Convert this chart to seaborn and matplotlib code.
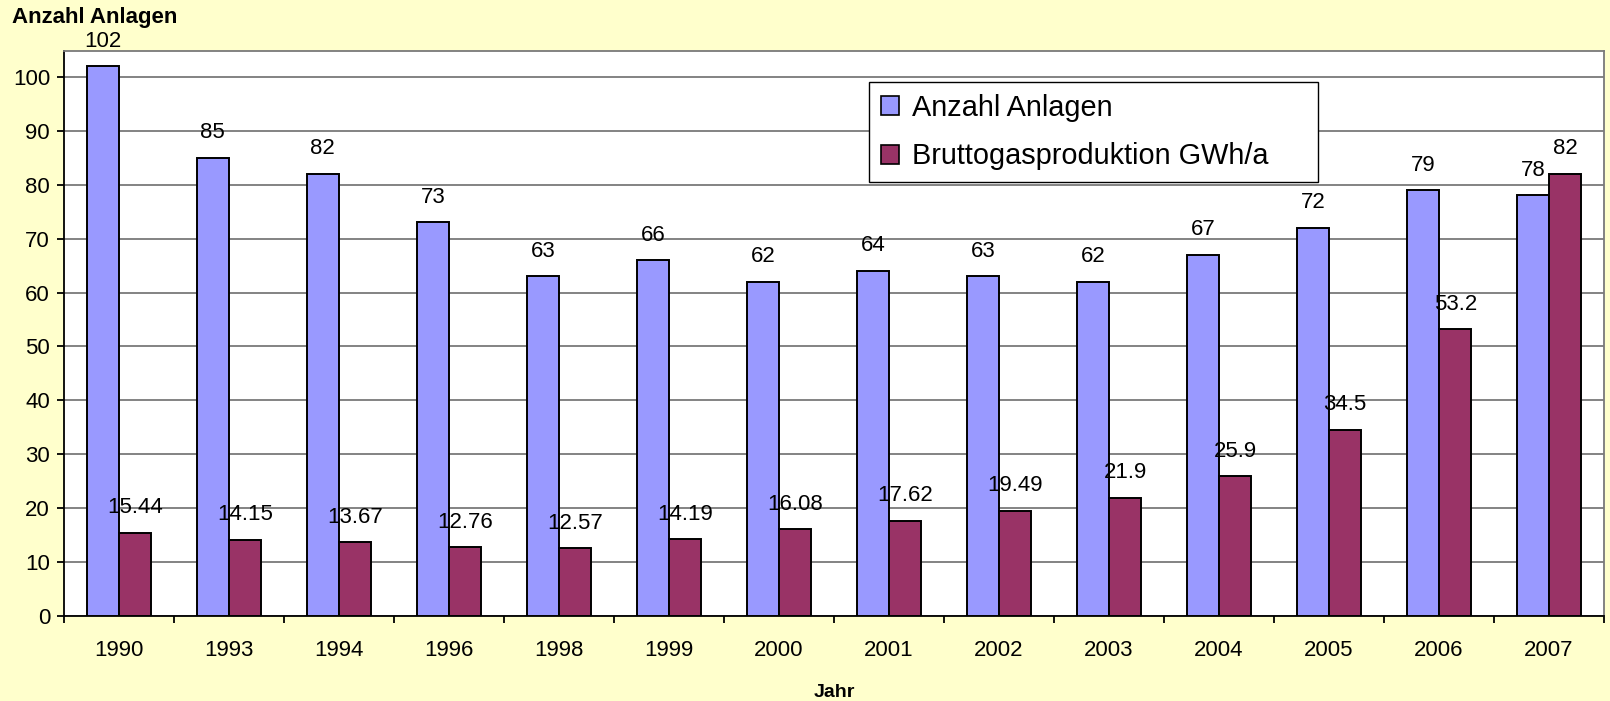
import matplotlib
matplotlib.use("Agg")
import matplotlib.pyplot as plt
import seaborn as sns
import pandas as pd
import numpy as np
from matplotlib.ticker import FixedLocator

years = ["1990", "1993", "1994", "1996", "1998", "1999", "2000", "2001",
         "2002", "2003", "2004", "2005", "2006", "2007"]
anlagen = [102, 85, 82, 73, 63, 66, 62, 64, 63, 62, 67, 72, 79, 78]
gas = [15.44, 14.15, 13.67, 12.76, 12.57, 14.19, 16.08, 17.62, 19.49, 21.9,
       25.9, 34.5, 53.2, 82]
series_names = ["Anzahl Anlagen", "Bruttogasproduktion GWh/a"]
colors = ["#9999FF", "#993366"]

df = pd.DataFrame({
    "Jahr": years * 2,
    "Wert": anlagen + gas,
    "Serie": [series_names[0]] * len(years) + [series_names[1]] * len(years),
})

sns.set_style("white")
plt.rcParams["font.family"] = ["Liberation Sans", "DejaVu Sans"]
plt.rcParams["text.color"] = "black"
plt.rcParams["axes.labelcolor"] = "black"
plt.rcParams["xtick.color"] = "black"
plt.rcParams["ytick.color"] = "black"

fig = plt.figure(figsize=(16.1, 7.01), dpi=100, facecolor="#FFFFCC")
ax = fig.add_axes([64 / 1610, 1 - 616 / 701, 1540 / 1610, 565 / 701])
ax.set_facecolor("white")

sns.barplot(data=df, x="Jahr", y="Wert", hue="Serie", hue_order=series_names,
            palette=colors, width=0.59, edgecolor="black", linewidth=1.4,
            saturation=1, ax=ax, zorder=3)

ax.set_ylim(0, 104.8)
ax.set_xlim(-0.5, len(years) - 0.5)
ax.set_yticks(np.arange(0, 101, 10))
ax.yaxis.grid(True, color="#7a7a7a", linewidth=1.3, zorder=0)
ax.xaxis.grid(False)
ax.set_axisbelow(True)

for cont in ax.containers:
    ax.bar_label(cont, labels=[f"{v:g}" for v in cont.datavalues],
                 padding=10.5, fontsize=16, color="black")

for side in ["top", "right"]:
    ax.spines[side].set_color("#7a7a7a")
    ax.spines[side].set_linewidth(1.3)
for side in ["left", "bottom"]:
    ax.spines[side].set_color("black")
    ax.spines[side].set_linewidth(1.3)

ax.tick_params(axis="y", which="major", length=5, width=1.3, color="black",
               labelcolor="black", labelsize=16, pad=5, left=True)
ax.tick_params(axis="x", which="major", length=0, labelsize=16, pad=17,
               labelcolor="black")
ax.xaxis.set_minor_locator(FixedLocator(np.arange(-0.5, len(years), 1)))
ax.tick_params(axis="x", which="minor", length=5, width=1.3, color="black",
               bottom=True)

ax.set_xlabel("Jahr", fontsize=14, fontweight="bold", labelpad=17,
              color="black")
ax.set_ylabel("")
fig.text(12 / 1610, 1 - 17 / 701, "Anzahl Anlagen", fontsize=16,
         fontweight="bold", va="center", ha="left", color="black")

leg_top = (565 - 31) / 565
leg = ax.legend(loc="upper left",
                bbox_to_anchor=(805 / 1540, leg_top - 0.1, 449 / 1540, 0.1),
                mode="expand", framealpha=1,
                fontsize=20.8, frameon=True, fancybox=False, edgecolor="black",
                handlelength=0.65, handleheight=0.65, handletextpad=0.45,
                borderpad=0.4, labelspacing=0.72, borderaxespad=0)
leg.get_frame().set_linewidth(1.0)
for t in leg.get_texts():
    t.set_color("black")
for h in leg.legend_handles:
    h.set_edgecolor("black")
    h.set_linewidth(1.2)

fig.savefig("out.png", dpi=100, facecolor=fig.get_facecolor())
